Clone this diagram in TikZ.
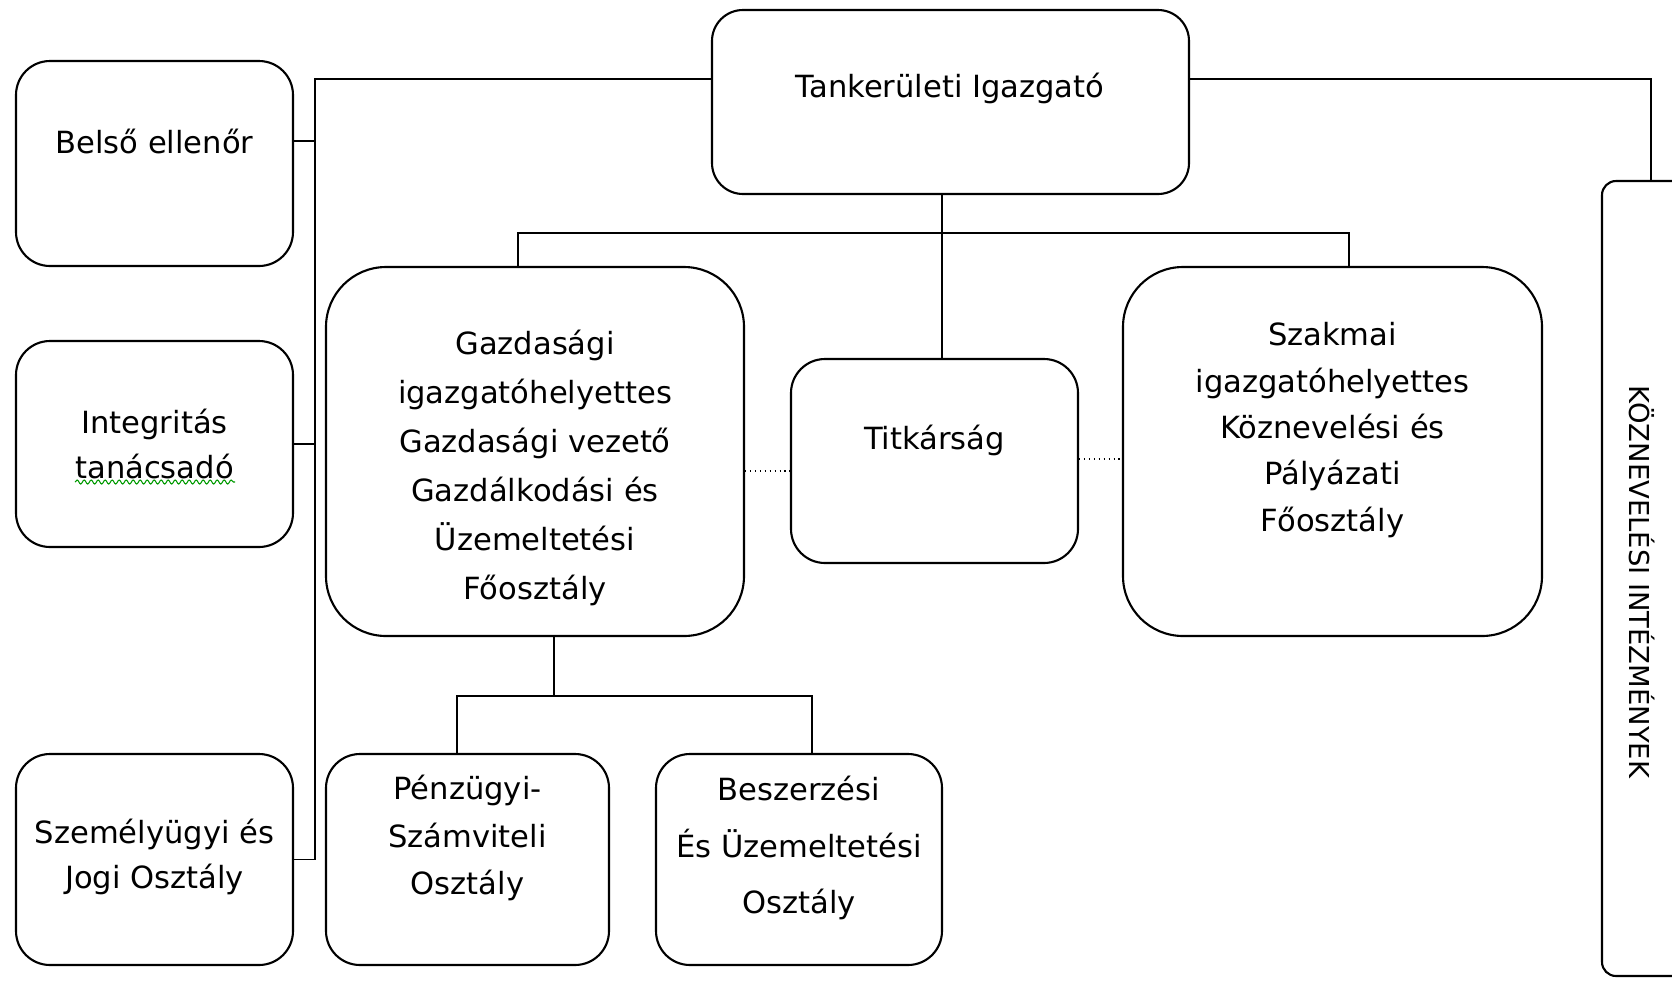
\documentclass[tikz,border=0pt]{standalone}
\usepackage{fontspec}
\setmainfont{DejaVu Sans}
\usetikzlibrary{decorations.pathmorphing}

\begin{document}
\begin{tikzpicture}[x=0.1mm,y=-0.1mm,line width=.45pt,
    box/.style={draw,line width=.6pt,rounded corners=3.4mm,inner sep=0pt},
    bigbox/.style={box,rounded corners=6mm},
    txt/.style={align=center,inner sep=0pt,font=\fontsize{8.7}{12.6}\selectfont},
    dots/.style={densely dotted,line width=.4pt}]
    \useasboundingbox (0,0) rectangle (1672,980);
    \clip (0,0) rectangle (1672,980);
    \node[box,rounded corners=3.1mm,minimum width=47.7mm,minimum height=18.4mm] (tank) at (950.5,102) {};
    \node[box,minimum width=27.7mm,minimum height=20.5mm] (belso) at (154.5,163.5) {};
    \node[box,minimum width=27.7mm,minimum height=20.6mm] (integ) at (154.5,444) {};
    \node[box,minimum width=27.7mm,minimum height=21.1mm] (szemely) at (154.5,859.5) {};
    \node[bigbox,minimum width=41.8mm,minimum height=36.9mm] (gazd) at (535,451.5) {};
    \node[box,minimum width=28.7mm,minimum height=20.4mm] (titk) at (934.5,461) {};
    \node[bigbox,minimum width=41.9mm,minimum height=36.9mm] (szak) at (1332.5,451.5) {};
    \node[box,minimum width=28.3mm,minimum height=21.1mm] (penz) at (467.5,859.5) {};
    \node[box,minimum width=28.6mm,minimum height=21.1mm] (besz) at (799,859.5) {};
    \node[box,rounded corners=1.4mm,minimum width=9.8mm,minimum height=79.5mm] (kozn) at (1651,578.5) {};

    \node[txt] (tank-t) at (950,88) {Tankerületi Igazgató};
    \node[txt] (belso-t) at (154.5,141) {Belső ellenőr};
    \node[txt] (integ-t) at (154.5,444) {Integritás\\tanácsadó};
    \node[txt] (szemely-t) at (154.5,857) {Személyügyi és\\Jogi Osztály};
    \node[txt,font=\fontsize{8.7}{13.9}\selectfont] (gazd-t) at (535,468) {Gazdasági\\igazgatóhelyettes\\Gazdasági vezető\\Gazdálkodási és\\Üzemeltetési\\Főosztály};
    \node[txt] (titk-t) at (934.5,440) {Titkárság};
    \node[txt,font=\fontsize{8.7}{13.2}\selectfont] (szak-t) at (1332.5,430) {Szakmai\\igazgatóhelyettes\\Köznevelési és\\Pályázati\\Főosztály};
    \node[txt,font=\fontsize{8.7}{13.4}\selectfont] (penz-t) at (467.5,838) {Pénzügyi-\\Számviteli\\Osztály};
    \node[txt,font=\fontsize{8.7}{16.2}\selectfont] (besz-t) at (799,848) {Beszerzési\\És Üzemeltetési\\Osztály};
    \node[txt,rotate=-90,font=\fontsize{7.8}{9}\selectfont] (kozn-t) at (1642,582) {KÖZNEVELÉSI INTÉZMÉNYEK};
    \draw[green!60!black,line width=.3pt,decorate,decoration={snake,amplitude=.2mm,segment length=.7mm}] (75,482) -- (235,482);

    \coordinate (lbus) at (315,79);
    \coordinate (rbus) at (1651,79);
    \coordinate (tbus) at (942,233);
    \coordinate (gbus) at (518,233);
    \coordinate (sbus) at (1349,233);
    \coordinate (gdrop) at (554,696);
    \coordinate (pbus) at (457,696);
    \coordinate (bbus) at (812,696);

    \draw (tank.west |- lbus) -- (lbus) -- (lbus |- szemely.east) -- (szemely.east);
    \draw (belso.east |- 0,141) -- (lbus |- 0,141);
    \draw (integ.east) -- (lbus |- integ.east);
    \draw (tank.east |- rbus) -- (rbus) -- (rbus |- kozn.north);
    \draw (tank.south -| tbus) -- (titk.north -| tbus);
    \draw (gazd.north -| gbus) -- (gbus) -- (sbus) -- (szak.north -| sbus);
    \draw (gazd.south -| gdrop) -- (gdrop);
    \draw (penz.north -| pbus) -- (pbus) -- (bbus) -- (besz.north -| bbus);
    \draw[dots] ([yshift=-1mm]gazd.east |- titk.west) -- ([yshift=-1mm]titk.west);
    \draw[dots] ([yshift=.2mm]titk.east) -- ([yshift=.2mm]szak.west |- titk.east);
\end{tikzpicture}
\end{document}
